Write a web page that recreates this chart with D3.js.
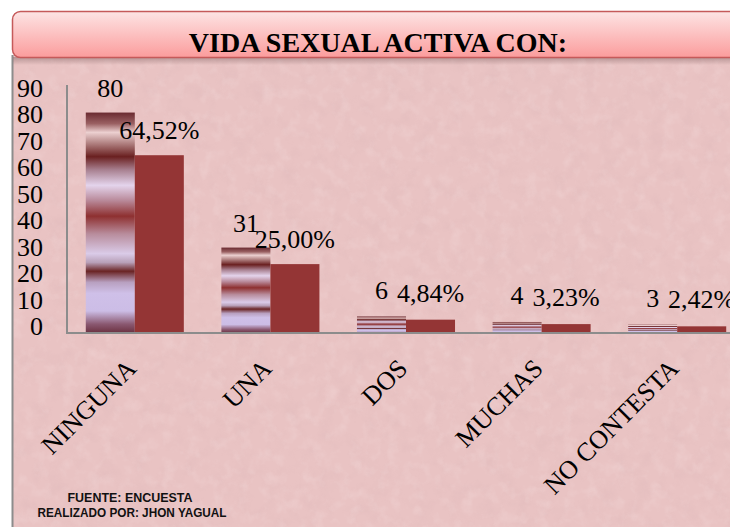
<!DOCTYPE html>
<html>
<head>
<meta charset="utf-8">
<script src="https://cdn.jsdelivr.net/npm/d3@7"></script>
<style>
html,body{margin:0;padding:0;background:#fff;}
svg{display:block;}
</style>
</head>
<body>
<div id="chart"></div>
<script>
const categories = ["NINGUNA", "UNA", "DOS", "MUCHAS", "NO CONTESTA"];
const counts = [80, 31, 6, 4, 3];
const percents = [64.52, 25.00, 4.84, 3.23, 2.42];
const percentLabels = ["64,52%", "25,00%", "4,84%", "3,23%", "2,42%"];
const yTicks = [0, 10, 20, 30, 40, 50, 60, 70, 80, 90];
const title = "VIDA SEXUAL ACTIVA CON:";
const footer = ["FUENTE: ENCUESTA", "REALIZADO POR: JHON YAGUAL"];

const W = 730, H = 527;
const serif = "'Liberation Serif', 'Times New Roman', serif";
const sans = "'Liberation Sans', Arial, sans-serif";
const svg = d3.select("#chart").append("svg").attr("width", W).attr("height", H);
const defs = svg.append("defs");

// background texture
const f = defs.append("filter").attr("id", "tex").attr("x", 0).attr("y", 0).attr("width", 1).attr("height", 1);
f.append("feTurbulence").attr("type", "fractalNoise").attr("baseFrequency", "0.06").attr("numOctaves", 4).attr("seed", 7).attr("result", "n");
f.append("feColorMatrix").attr("in", "n").attr("type", "matrix")
  .attr("values", "0 0 0 0 0.6  0 0 0 0 0.38  0 0 0 0 0.40  0.9 0 0 0 -0.42");
const f2 = defs.append("filter").attr("id", "tex2").attr("x", 0).attr("y", 0).attr("width", 1).attr("height", 1);
f2.append("feTurbulence").attr("type", "fractalNoise").attr("baseFrequency", "0.08").attr("numOctaves", 3).attr("seed", 3).attr("result", "n");
f2.append("feColorMatrix").attr("in", "n").attr("type", "matrix")
  .attr("values", "0 0 0 0 1  0 0 0 0 0.92  0 0 0 0 0.92  0.9 0 0 0 -0.42");

const tg = defs.append("linearGradient").attr("id", "titleGrad").attr("x1", 0).attr("y1", 0).attr("x2", 0).attr("y2", 1);
tg.append("stop").attr("offset", 0).attr("stop-color", "#fde4e4");
tg.append("stop").attr("offset", 1).attr("stop-color", "#fb9c9c");

const sh = defs.append("linearGradient").attr("id", "shadowGrad").attr("x1", 0).attr("y1", 0).attr("x2", 0).attr("y2", 1);
sh.append("stop").attr("offset", 0).attr("stop-color", "#8a6a6a").attr("stop-opacity", 0.55);
sh.append("stop").attr("offset", 1).attr("stop-color", "#8a6a6a").attr("stop-opacity", 0);

const bg = defs.append("linearGradient").attr("id", "barGrad").attr("x1", 0).attr("y1", 0).attr("x2", 0).attr("y2", 1);
[[0, "#6a2a30"], [0.05, "#9a6062"], [0.09, "#ecd0d0"], [0.14, "#b08080"], [0.2, "#6a2020"],
 [0.26, "#a88090"], [0.33, "#e4d4ec"], [0.4, "#b88898"], [0.47, "#8e3030"], [0.55, "#b88c9c"],
 [0.64, "#dacbe8"], [0.68, "#b8a0b8"], [0.72, "#6a2424"], [0.77, "#b8a0c0"], [0.82, "#cfc0e8"],
 [0.9, "#ccbde6"], [0.96, "#8a5870"], [1, "#6a3040"]]
 .forEach(([o, c]) => bg.append("stop").attr("offset", o).attr("stop-color", c));

// page background
svg.append("rect").attr("x", 12).attr("y", 55).attr("width", W - 12).attr("height", H - 55).attr("fill", "#e9c3c3");
svg.append("rect").attr("x", 12).attr("y", 55).attr("width", W - 12).attr("height", H - 55).attr("fill", "#000").attr("filter", "url(#tex)").attr("opacity", 0.35);
svg.append("rect").attr("x", 12).attr("y", 55).attr("width", W - 12).attr("height", H - 55).attr("fill", "#000").attr("filter", "url(#tex2)").attr("opacity", 0.4);
svg.append("line").attr("x1", 12.5).attr("x2", 12.5).attr("y1", 55).attr("y2", H).attr("stroke", "#8c8c8c").attr("stroke-width", 2);

// title box
svg.append("rect").attr("x", 13).attr("y", 57).attr("width", W).attr("height", 8).attr("fill", "url(#shadowGrad)");
svg.append("rect").attr("x", 12.5).attr("y", 11.5).attr("width", W + 20).attr("height", 46).attr("rx", 8)
  .attr("fill", "url(#titleGrad)").attr("stroke", "#c55a5a").attr("stroke-width", 1.5);
svg.append("text").attr("x", 378).attr("y", 52).attr("text-anchor", "middle")
  .style("font-family", serif).style("font-weight", "bold")
  .style("font-size", "28px").attr("fill", "#000").text(title);

// scales
const x0 = d3.scaleBand().domain(categories).range([67, 745]).paddingInner(0.277).paddingOuter(0.1385);
const x1 = d3.scaleBand().domain([0, 1]).range([0, x0.bandwidth()]);
const y = d3.scaleLinear().domain([0, 90]).range([333, 85]);
const yLab = d3.scaleLinear().domain([0, 90]).range([326, 88]);

// bars
const g = svg.append("g");
g.selectAll("rect.c").data(categories).join("rect").attr("class", "c")
  .attr("x", d => x0(d) + x1(0)).attr("width", x1.bandwidth())
  .attr("y", (d, i) => y(counts[i])).attr("height", (d, i) => y(0) - y(counts[i]))
  .attr("fill", "url(#barGrad)");
g.selectAll("rect.p").data(categories).join("rect").attr("class", "p")
  .attr("x", d => x0(d) + x1(1)).attr("width", x1.bandwidth())
  .attr("y", (d, i) => y(percents[i])).attr("height", (d, i) => y(0) - y(percents[i]))
  .attr("fill", "#943535");

// axes lines
svg.append("line").attr("x1", 67).attr("x2", 67).attr("y1", y(90)).attr("y2", y(0)).attr("stroke", "#8c8c8c").attr("stroke-width", 2);
svg.append("line").attr("x1", 66).attr("x2", W).attr("y1", y(0)).attr("y2", y(0)).attr("stroke", "#8c8c8c").attr("stroke-width", 2);

// y tick labels
svg.append("g").selectAll("text").data(yTicks).join("text")
  .attr("x", 43).attr("y", d => yLab(d) + 9).attr("text-anchor", "end")
  .style("font-family", serif).style("font-size", "26px").attr("fill", "#000").text(d => d);

// value labels (small bars get labels slightly higher, as in the reference)
const lift = v => 16 + Math.max(0, 2.5 - v / 4);
g.selectAll("text.cl").data(categories).join("text").attr("class", "cl")
  .attr("x", d => x0(d) + x1(0) + x1.bandwidth() / 2).attr("y", (d, i) => y(counts[i]) - lift(counts[i]))
  .attr("text-anchor", "middle").style("font-family", serif).style("font-size", "26px").attr("fill", "#000")
  .text((d, i) => counts[i]);
g.selectAll("text.pl").data(categories).join("text").attr("class", "pl")
  .attr("x", d => x0(d) + x1(1) + x1.bandwidth() / 2).attr("y", (d, i) => y(percents[i]) - lift(percents[i]))
  .attr("text-anchor", "middle").style("font-family", serif).style("font-size", "26px").attr("fill", "#000")
  .text((d, i) => percentLabels[i]);

// category labels
svg.append("g").selectAll("text").data(categories).join("text")
  .attr("transform", d => `translate(${x0(d) + x0.bandwidth() / 2 + 3},370) rotate(-45)`)
  .attr("text-anchor", "end").style("font-family", serif).style("font-size", "26px").attr("fill", "#000")
  .text(d => d);

// footer
const fl = [[130, 502, 125], [132, 517, 189]];
svg.append("g").selectAll("text").data(footer).join("text")
  .attr("x", (d, i) => fl[i][0]).attr("y", (d, i) => fl[i][1]).attr("text-anchor", "middle")
  .style("font-family", sans).style("font-weight", "bold").style("font-size", "13px")
  .attr("textLength", (d, i) => fl[i][2]).attr("lengthAdjust", "spacingAndGlyphs")
  .attr("fill", "#111").text(d => d);
</script>
</body>
</html>
